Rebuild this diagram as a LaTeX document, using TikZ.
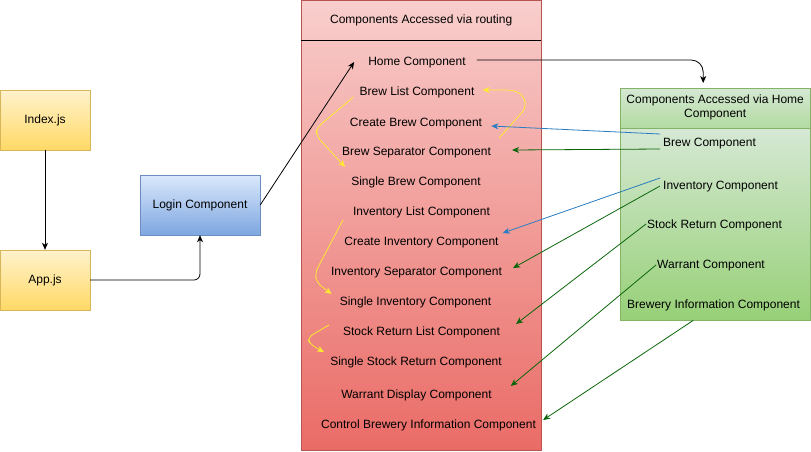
\documentclass[tikz,border=0pt]{standalone}
\usepackage{fontspec}
\setmainfont{Liberation Sans}
\usepackage{xcolor}
\usepackage{tikz}
\usetikzlibrary{positioning,arrows.meta,calc}
\definecolor{redtop}{HTML}{F8CECC}
\definecolor{redbot}{HTML}{EA6B66}
\definecolor{redline}{HTML}{B85450}
\definecolor{greentop}{HTML}{D5E8D4}
\definecolor{greenbot}{HTML}{97D077}
\definecolor{greenline}{HTML}{82B366}
\definecolor{bluetop}{HTML}{DAE8FC}
\definecolor{bluebot}{HTML}{7EA6E0}
\definecolor{blueline}{HTML}{6C8EBF}
\definecolor{yeltop}{HTML}{FFF2CC}
\definecolor{yelbot}{HTML}{FFD966}
\definecolor{yelline}{HTML}{D6B656}
\definecolor{linkblue}{HTML}{2A7DC0}
\definecolor{linkgreen}{HTML}{0B650B}
\definecolor{loopyellow}{HTML}{FFE933}

\begin{document}
\begin{tikzpicture}[
    x=1pt, y=-1pt,
    font=\fontsize{12}{14}\selectfont,
    filebox/.style={draw=yelline, top color=yeltop, bottom color=yelbot, minimum width=90pt, minimum height=60pt, align=center},
    loginbox/.style={draw=blueline, top color=bluetop, bottom color=bluebot, minimum width=120pt, minimum height=60pt, align=center},
    item/.style={inner sep=0pt, text height=10pt, text depth=0pt},
    arr/.style={-{Stealth[length=7pt,width=6pt,inset=2pt]}, line width=0.8pt},
    bluearr/.style={arr, draw=linkblue},
    greenarr/.style={arr, draw=linkgreen},
    looparr/.style={arr, draw=loopyellow, rounded corners=6pt}
]
    \useasboundingbox (0,0) rectangle (811,451);

    % left side
    \node[filebox] (index) at (45,120) {Index.js};
    \node[filebox] (app) at (45,280) {App.js};
    \node[loginbox] (login) at (200,205) {Login Component};

    % routing lane
    \node[draw=redline, top color=redtop, bottom color=redtop!92!redbot, minimum width=240pt, minimum height=40pt, anchor=north west, inner sep=0pt] (rhead) at (301,0) {Components Accessed via routing};
    \node[draw=redline, top color=redtop!90!redbot, bottom color=redbot, minimum width=240pt, minimum height=410pt, anchor=north west, inner sep=0pt] (rbody) at (301,40) {};
    \draw[line width=0.8pt] (rhead.south west) -- (rhead.south east);

    \node[item] (home) at (417,60) {Home Component};
    \node[item] (blist) at (417,90) {Brew List Component};
    \node[item] (cbrew) at (416,121) {Create Brew Component};
    \node[item] (bsep) at (416.5,150) {Brew Separator Component};
    \node[item] (sbrew) at (416,180) {Single Brew Component};
    \node[item] (ilist) at (421.5,210) {Inventory List Component};
    \node[item] (cinv) at (421.5,240) {Create Inventory Component};
    \node[item] (isep) at (416.5,270) {Inventory Separator Component};
    \node[item] (sinv) at (415.5,300) {Single Inventory Component};
    \node[item] (slist) at (421.5,330) {Stock Return List Component};
    \node[item] (sstock) at (416,360) {Single Stock Return Component};
    \node[item] (wdisp) at (416.5,393) {Warrant Display Component};
    \node[item] (ctrl) at (428.5,423) {Control Brewery Information Component};

    % home lane
    \node[draw=greenline, top color=greentop, bottom color=greentop!45!greenbot, minimum width=190pt, minimum height=40pt, anchor=north west, align=center, inner sep=0pt, text depth=4pt] (ghead) at (620,88) {Components Accessed via Home\\Component};
    \node[draw=greenline, top color=greentop, bottom color=greenbot, minimum width=190pt, minimum height=192pt, anchor=north west, inner sep=0pt] (gbody) at (620,128) {};

    \node[item, anchor=west] (brewc) at (663,141) {Brew Component};
    \node[item, anchor=west] (invc) at (663,184) {Inventory Component};
    \node[item, anchor=west] (stockc) at (647,223) {Stock Return Component};
    \node[item, anchor=west] (warrc) at (657,263) {Warrant Component};
    \node[item, anchor=west] (infoc) at (627,303) {Brewery Information Component};

    % black flow
    \draw[arr] (index) -- (app);
    \draw[arr, rounded corners=6pt] (app.east) -| (login.south);
    \draw[arr] (login.east) -- ([xshift=-14pt,yshift=-2pt]home.west);
    \draw[arr, rounded corners=12pt] ([xshift=11pt]home.east) -| ([xshift=-12pt,yshift=5pt]ghead.north);

    % loops inside the routing lane
    \draw[looparr] ([xshift=8pt,yshift=12pt]bsep.east) -- ++(27,-30) -- ++(-2,-12) -- ++(-10,-6) -- ([xshift=8pt]blist.east);
    \draw[looparr] ([xshift=-6pt,yshift=-7pt]blist.west) -- ++(-37,31) -- ++(0,8) -- ([xshift=-6pt,yshift=13pt]sbrew.west);
    \draw[looparr] ([xshift=-10pt,yshift=-10pt]ilist.west) -- ++(-28,53) -- ++(2,10) -- ([xshift=-8pt,yshift=6pt]sinv.west);
    \draw[looparr] ([xshift=-14pt,yshift=5pt]slist.west) -- ++(-22,13) -- ++(4,7) -- ([xshift=-6pt,yshift=8pt]sstock.west);

    % from the home lane
    \draw[bluearr] ([xshift=-3pt,yshift=7pt]brewc.west) -- ([xshift=9pt,yshift=-5pt]cbrew.east);
    \draw[greenarr] ([xshift=-3pt,yshift=-8pt]brewc.west) -- ([xshift=21pt]bsep.east);
    \draw[bluearr] ([xshift=-3pt,yshift=6pt]invc.west) -- ([xshift=4pt,yshift=7pt]cinv.east);
    \draw[greenarr] ([xshift=-3pt,yshift=-2pt]invc.west) -- ([xshift=11pt,yshift=2pt]isep.east);
    \draw[greenarr] ([xshift=-1pt,yshift=-1pt]stockc.west) -- ([xshift=16pt,yshift=6pt]slist.east);
    \draw[greenarr] ([xshift=-1pt,yshift=-2pt]warrc.west) -- ([xshift=19pt,yshift=7pt]wdisp.east);
    \draw[greenarr] ([xshift=-22pt]gbody.south) -- ([xshift=7pt,yshift=3pt]ctrl.east);
\end{tikzpicture}
\end{document}
